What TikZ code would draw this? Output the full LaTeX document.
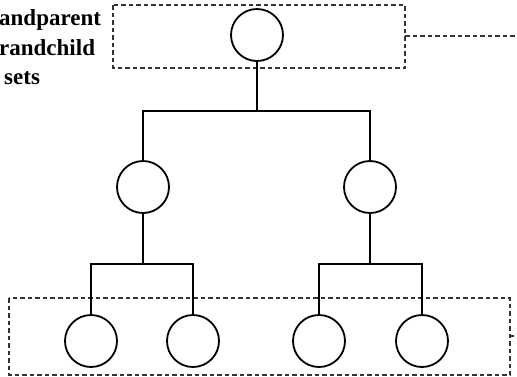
\documentclass[tikz,border=0pt]{standalone}
\usepackage{fontspec}
\setmainfont{Liberation Serif}
\begin{document}
\begin{tikzpicture}[x=1pt,y=-1pt,
  member/.style={circle,draw,line width=1.8pt,minimum size=52pt,inner sep=0pt},
  link/.style={line width=1.7pt},
  groupbox/.style={draw=black!80,line width=1.4pt,dash pattern=on 4.5pt off 3pt},
  caption/.style={font=\fontsize{23}{29}\selectfont\bfseries,anchor=base west,inner sep=0pt}]
\useasboundingbox (0,0) rectangle (517,376);
\begin{scope}
\clip (0,0) rectangle (517,376);
% caption lines
\node[caption] (c1) at (-1,25) {andparent};
\node[caption] (c2) at (-1,55) {randchild};
\node[caption] (c3) at (4,84) {sets};

% group outlines
\draw[groupbox] (113,5) rectangle (405,68);
\coordinate (topout) at (405,36);
\coordinate (topend) at (518,36);
\draw[groupbox] (topout) -- (topend);
\draw[groupbox] (9,298) rectangle (510,375);
\coordinate (botout) at (510,336);
\coordinate (botend) at (514,336);
\draw[line width=1.2pt,black!80] (botout) -- (botend);

% family tree
\node[member] (g)  at (257,35) {};
\node[member] (p1) at (143,187) {};
\node[member] (p2) at (370,187) {};
\node[member] (k1) at (91,341) {};
\node[member] (k2) at (193,341) {};
\node[member] (k3) at (319,341) {};
\node[member] (k4) at (422,341) {};

\coordinate (gj) at (257,111);
\coordinate (j1) at (143,264);
\coordinate (j2) at (370,264);
\draw[link] (g.south) -- (gj);
\draw[link] (gj) -| (p1.north);
\draw[link] (gj) -| (p2.north);
\draw[link] (p1.south) -- (j1);
\draw[link] (j1) -| (k1.north);
\draw[link] (j1) -| (k2.north);
\draw[link] (p2.south) -- (j2);
\draw[link] (j2) -| (k3.north);
\draw[link] (j2) -| (k4.north);
\end{scope}
\end{tikzpicture}
\end{document}
